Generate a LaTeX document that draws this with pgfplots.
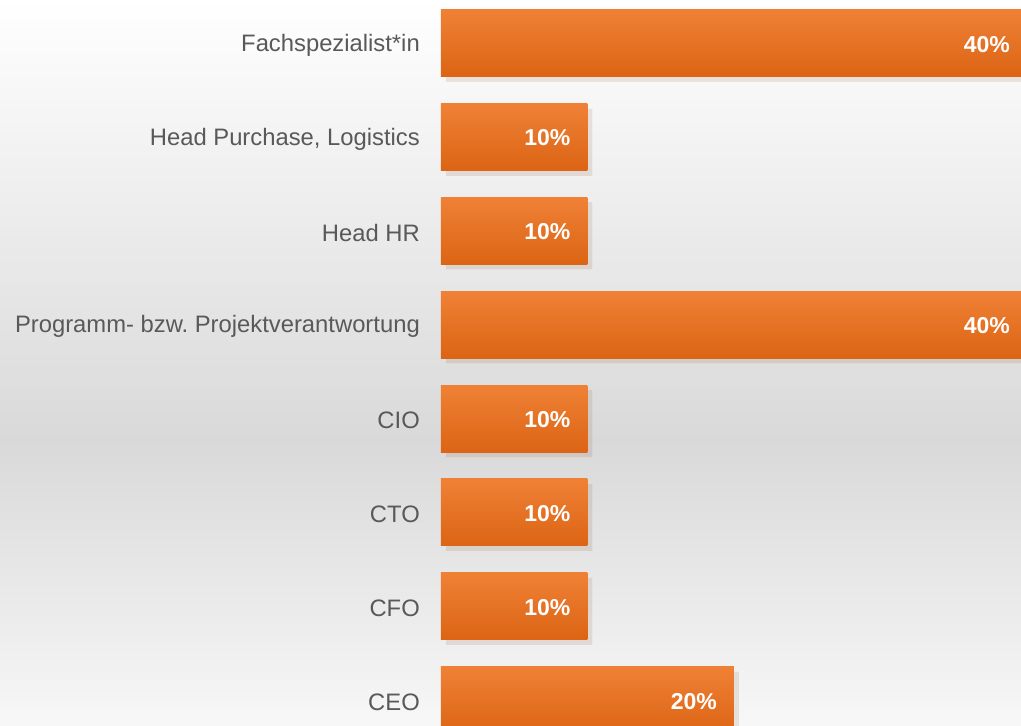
\documentclass[border=0pt]{standalone}
\usepackage{pgfplots}
\pgfplotsset{compat=1.18}
\usepackage{fontspec}
\setmainfont{Liberation Sans}
\frenchspacing
\definecolor{bartop}{HTML}{EF8136}
\definecolor{barbot}{HTML}{DC6414}
\definecolor{labgray}{HTML}{595959}
\definecolor{bgmid}{HTML}{D9D9D9}
\pgfplotsset{onebar/.style={draw=none, top color=bartop, bottom color=barbot,
  preaction={fill=black, fill opacity=0.06, transform canvas={xshift=5bp, yshift=-5bp}}}}
\begin{document}
\begin{tikzpicture}
\path[use as bounding box] (-441bp,0) rectangle (580bp,726bp);
\clip (-441bp,0) rectangle (580bp,726bp);
\fill[top color=bgmid, bottom color=white!97!black] (-441bp,0) rectangle (580bp,286bp);
\fill[top color=white, bottom color=bgmid] (-441bp,286bp) rectangle (580bp,726bp);
\begin{axis}[
  at={(0,0)}, anchor=south west,
  scale only axis, width=586bp, height=726bp,
  xmin=0, xmax=40, ymin=-0.275, ymax=7.46,
  axis line style={draw=none},
  xtick=\empty,
  ytick={0,...,7},
  yticklabels={CEO,CFO,CTO,CIO,Programm- bzw. Projektverantwortung,Head HR,{Head Purchase, Logistics},Fachspezialist*in},
  ytick style={draw=none},
  major tick length=0pt,
  yticklabel style={font=\fontsize{23.8bp}{28bp}\selectfont, text=labgray, inner sep=0pt, xshift=-21bp, yshift=-2bp},
  xbar, bar width=67bp, bar shift=0pt,
  /pgf/number format/assume math mode=true,
  nodes near coords={\pgfmathprintnumber{\pgfplotspointmeta}\%},
  nodes near coords style={anchor=east, xshift=-17bp, yshift=-1bp, text=white, font=\fontsize{23bp}{28bp}\selectfont\bfseries, inner sep=0pt},
]
\addplot[onebar] coordinates {(20,0)};
\addplot[onebar] coordinates {(10,1)};
\addplot[onebar] coordinates {(10,2)};
\addplot[onebar] coordinates {(10,3)};
\addplot[onebar] coordinates {(40,4)};
\addplot[onebar] coordinates {(10,5)};
\addplot[onebar] coordinates {(10,6)};
\addplot[onebar] coordinates {(40,7)};
\end{axis}
\end{tikzpicture}
\end{document}
